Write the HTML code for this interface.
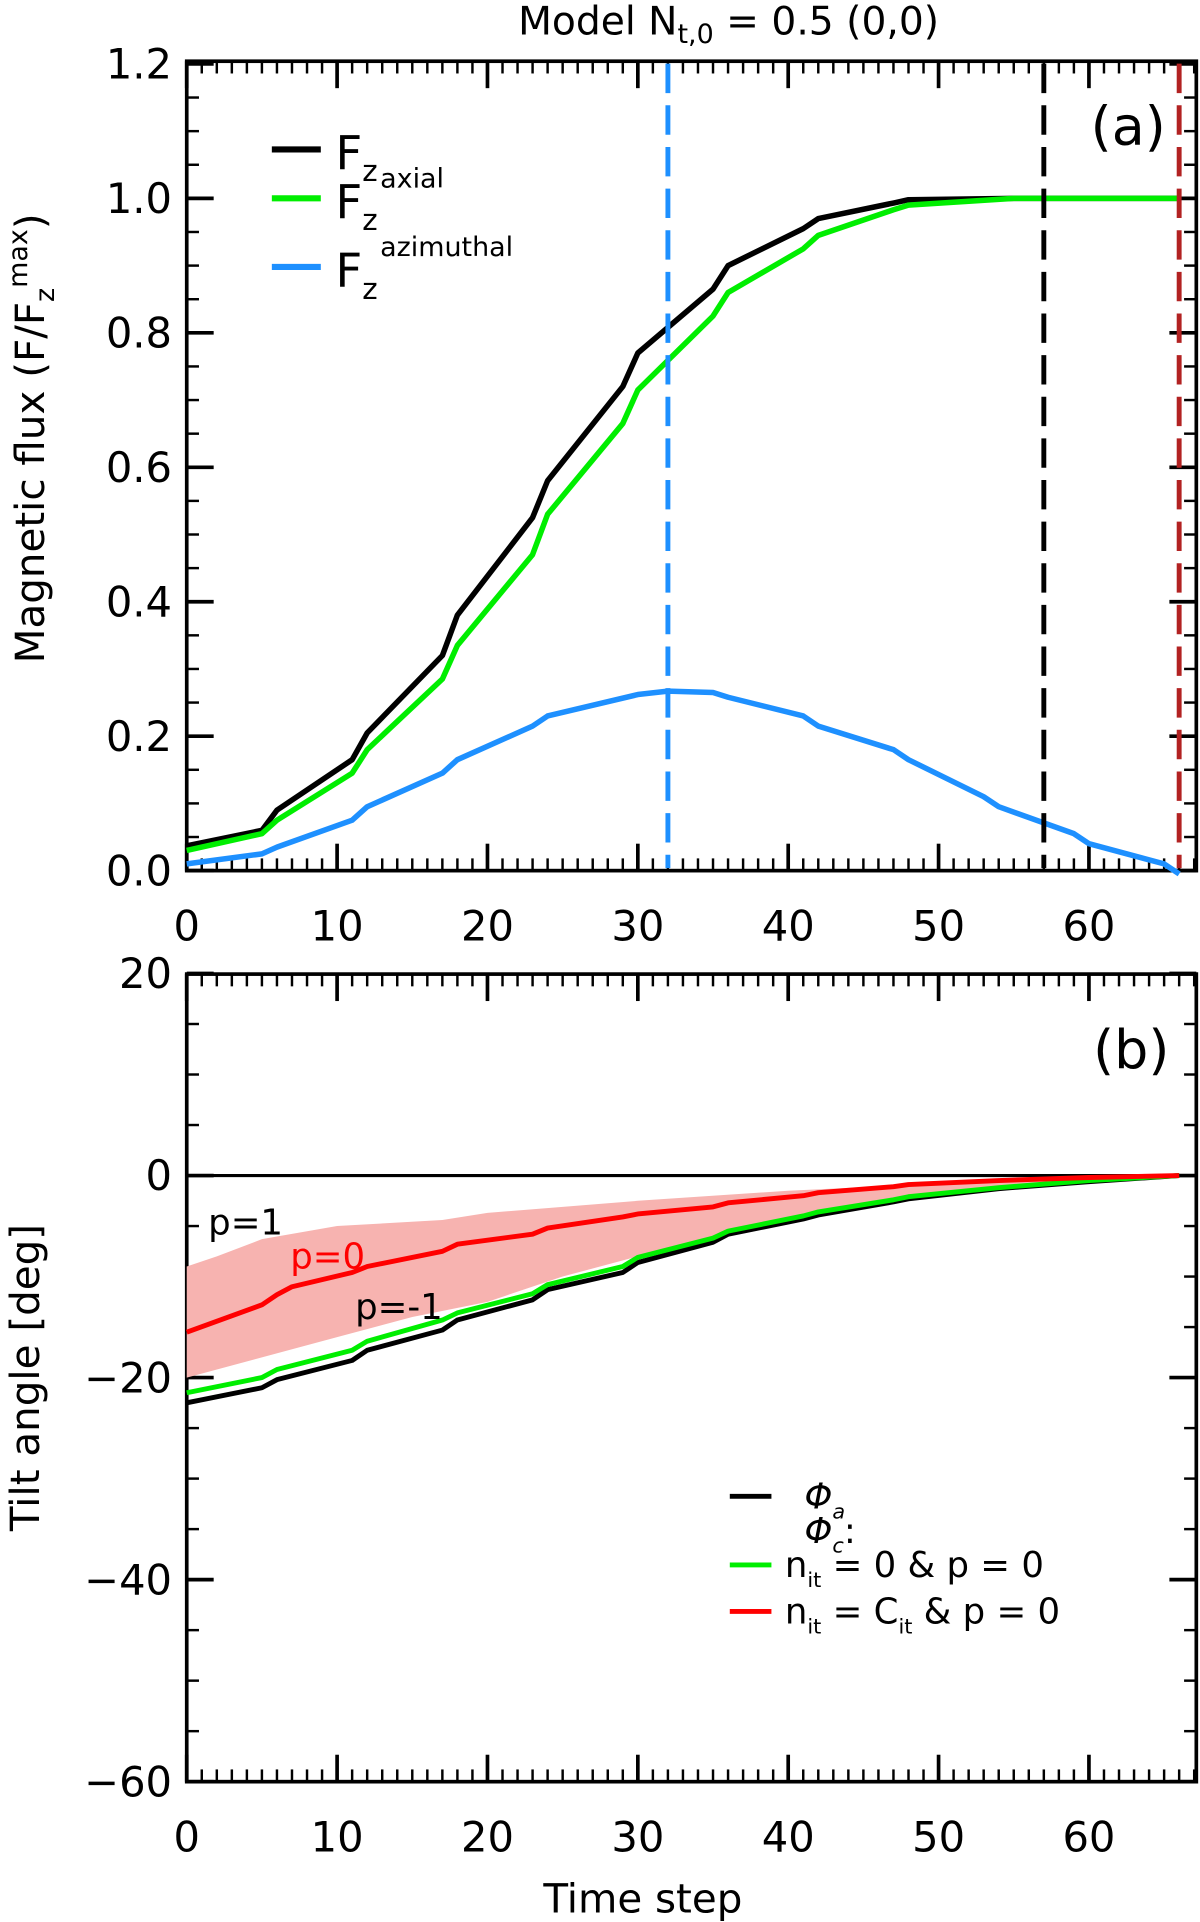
<!DOCTYPE html>
<html><head><meta charset="utf-8"><style>html,body{margin:0;padding:0;background:#fff}svg{display:block}text{font-family:"DejaVu Sans","Liberation Sans",sans-serif}</style></head>
<body>
<svg id="c" width="1200" height="1922" viewBox="0 0 980 1569.6" preserveAspectRatio="none" xmlns="http://www.w3.org/2000/svg">
<text x="595" y="28" font-size="32" text-anchor="middle">Model N<tspan font-size="22" dy="7">t,0</tspan><tspan dy="-7"> = 0.5 (0,0)</tspan></text>
<text transform="translate(36,358) rotate(-90)" font-size="33" text-anchor="middle">Magnetic flux (F/F<tspan font-size="22" dy="8">z</tspan><tspan font-size="22" dy="-22">max</tspan><tspan dy="14">)</tspan></text>
<text transform="translate(32,1125) rotate(-90)" font-size="33" text-anchor="middle">Tilt angle [deg]</text>
<text x="525" y="1562" font-size="33" text-anchor="middle">Time step</text>
<g id="ga"></g><g id="gb"></g>
</svg>
<script>
// Panel (a) data
const tA = [0,5,6,11,12,17,18,23,24,29,30,35,36,41,42,47,48,55,66];
const fz = [0.037,0.06,0.09,0.165,0.205,0.32,0.38,0.525,0.58,0.72,0.77,0.865,0.9,0.955,0.97,0.993,0.998,1.0,1.0];
const fzAxial = [0.03,0.055,0.075,0.145,0.18,0.285,0.335,0.47,0.53,0.665,0.715,0.825,0.86,0.925,0.945,0.983,0.99,1.0,1.0];
const tAz = [0,5,6,11,12,17,18,23,24,30,32,35,36,41,42,47,48,53,54,59,60,65,66];
const fzAzim = [0.01,0.025,0.035,0.075,0.095,0.145,0.165,0.215,0.23,0.262,0.267,0.265,0.258,0.23,0.215,0.18,0.165,0.11,0.095,0.055,0.04,0.01,-0.005];
const vlinesA = [32,57,66];
const ticksAY = [0,0.2,0.4,0.6,0.8,1.0,1.2];
const ticksX = [0,10,20,30,40,50,60];
// Panel (b) data
const tB = [0,5,6,11,12,17,18,23,24,29,30,35,36,41,42,47,48,54,60,66];
const phiA = [-22.5,-21,-20.2,-18.3,-17.3,-15.3,-14.3,-12.3,-11.3,-9.6,-8.6,-6.6,-5.8,-4.3,-3.9,-2.6,-2.3,-1.3,-0.6,0];
const phiCgreen = [-21.5,-20,-19.2,-17.3,-16.4,-14.3,-13.6,-11.7,-10.8,-9.0,-8.1,-6.2,-5.5,-4.0,-3.6,-2.4,-2.1,-1.2,-0.5,0];
const tRed = [0,5,6,7,11,12,17,18,23,24,29,30,35,36,41,42,47,48,54,60,66];
const phiCred = [-15.5,-12.8,-11.8,-11,-9.6,-9,-7.5,-6.8,-5.8,-5.2,-4.1,-3.8,-3.1,-2.7,-2.0,-1.7,-1.1,-0.9,-0.5,-0.2,0];
const tBandU = [0,2,5,10,17,20,30,40,50,60,66];
const bandUpper = [-9,-8,-6.3,-5,-4.4,-3.7,-2.5,-1.5,-0.8,-0.3,0];
const tBandL = [0,5,10,15,20,25,30,35,40,45,50,55,60,66];
const bandLower = [-20,-18,-16,-14,-12.5,-10,-8,-6,-4.5,-3.2,-2,-1.2,-0.5,0];
const ticksBY = [-60,-40,-20,0,20];

const NS="http://www.w3.org/2000/svg";
const L=152.5,R=977;
const x=t=>L+t*12.28;
const yA=v=>711-v*549;
const yB=v=>960-v*8.25;
function mk(p,tag,at){const e=document.createElementNS(NS,tag);for(const k in at)e.setAttribute(k,at[k]);p.appendChild(e);return e;}
function pts(ts,vs,fy){return ts.map((t,i)=>x(t).toFixed(1)+','+fy(vs[i]).toFixed(1)).join(' ');}
const ga=document.getElementById('ga'), gb=document.getElementById('gb');

function axes(g,top,bot,fy,ymin,ymax,minStep,majors,fmt,nm){
  const fr=mk(g,'rect',{x:L,y:top,width:R-L,height:bot-top,fill:'none',stroke:'#000','stroke-width':3});
  
  
  for(let t=0;t<=67;t++){const maj=t%10==0,len=maj?22:10;
    mk(g,'line',{x1:x(t),x2:x(t),y1:bot,y2:bot-len,stroke:'#000','stroke-width':maj?3:2});
    mk(g,'line',{x1:x(t),x2:x(t),y1:top,y2:top+len,stroke:'#000','stroke-width':maj?3:2});}
  for(let v=ymin;v<=ymax+1e-9;v+=minStep){const maj=majors.some(m=>Math.abs(m-v)<1e-6),len=maj?22:10;
    mk(g,'line',{x1:L,x2:L+len,y1:fy(v),y2:fy(v),stroke:'#000','stroke-width':maj?3:2});
    mk(g,'line',{x1:R,x2:R-len,y1:fy(v),y2:fy(v),stroke:'#000','stroke-width':maj?3:2});}
  majors.forEach(v=>{const tx=mk(g,'text',{x:L-12,y:fy(v)+12,'font-size':34,'text-anchor':'end'});tx.textContent=fmt(v);
    
    });
  ticksX.forEach(t=>{const tx=mk(g,'text',{x:x(t),y:bot+57,'font-size':34,'text-anchor':'middle'});tx.textContent=t;
    
    });
}
axes(ga,50,711,yA,0,1.2,0.05,ticksAY,v=>v.toFixed(1),'panel-a');
axes(gb,795.5,1455,yB,-60,20,5,ticksBY,v=>v<0?'\u2212'+(-v):''+v,'panel-b');

function line(g,ts,vs,fy,col,w,nm){const e=mk(g,'polyline',{points:pts(ts,vs,fy),fill:'none',stroke:col,'stroke-width':w,'stroke-linejoin':'round'});
  
  return e;}
// panel a
line(ga,tA,fz,yA,'#000',4.5,'fz-line');
line(ga,tA,fzAxial,yA,'#00ee00',4.5,'fz-axial-line');
line(ga,tAz,fzAzim,yA,'#1e90ff',4.5,'fz-azimuthal-line');
const vcols=['#1e90ff','#000','#b22222'];
vlinesA.forEach((t,i)=>{const e=mk(ga,'line',{x1:x(t),x2:x(t),y1:52,y2:709,stroke:vcols[i],'stroke-width':4,'stroke-dasharray':'24,10'});
  
  });
const la=mk(ga,'text',{x:952,y:118,'font-size':44,'text-anchor':'end'});la.textContent='(a)';


const leg=[['#000',122,''],['#00ee00',162,'axial'],['#1e90ff',218,'azimuthal']];
leg.forEach(([c,yy,sup],i)=>{const l=mk(ga,'line',{x1:222,x2:262,y1:yy,y2:yy,stroke:c,'stroke-width':5});
  
  
  const tx=mk(ga,'text',{x:274,y:yy+16,'font-size':38});
  
  
  tx.innerHTML='F<tspan font-size="24" dy="10">z</tspan>'+(sup?'<tspan font-size="22" dx="2" dy="-35">'+sup+'</tspan>':'');});
// panel b
const band=tBandU.map((t,i)=>x(t)+','+yB(bandUpper[i])).concat(tBandL.map((t,i)=>x(t)+','+yB(bandLower[i])).reverse()).join(' ');
const bd=mk(gb,'polygon',{points:band,fill:'#f7b3b0',stroke:'none'});


const zl=mk(gb,'line',{x1:L,x2:R,y1:yB(0),y2:yB(0),stroke:'#000','stroke-width':2.5});


line(gb,tB,phiA,yB,'#000',4,'phi-a-line');
line(gb,tB,phiCgreen,yB,'#00ee00',4,'phi-c-green-line');
line(gb,tRed,phiCred,yB,'#ff0000',4,'phi-c-red-line');
const lb=mk(gb,'text',{x:955,y:872,'font-size':44,'text-anchor':'end'});lb.textContent='(b)';


[['p=1',170,1008,'#000'],['p=0',237,1036,'#ff0000'],['p=-1',290,1077,'#000']].forEach(([s,xx,yy,c])=>{const t=mk(gb,'text',{x:xx,y:yy,'font-size':29,fill:c});t.textContent=s;
  
  });
const lg=[['#000',1222,'<tspan font-style="italic">Φ</tspan><tspan font-size="17" dy="8" font-style="italic">a</tspan>',657],
 [null,1250,'<tspan font-style="italic">Φ</tspan><tspan font-size="17" dy="8" font-style="italic">c</tspan><tspan dy="-8">:</tspan>',657],
 ['#00ee00',1278,'n<tspan font-size="17" dy="8">it</tspan><tspan dy="-8"> = 0 &amp; p = 0</tspan>',641],
 ['#ff0000',1316,'n<tspan font-size="17" dy="8">it</tspan><tspan dy="-8"> = C</tspan><tspan font-size="17" dy="8">it</tspan><tspan dy="-8"> &amp; p = 0</tspan>',641]];
lg.forEach(([c,yy,h,tx0])=>{if(c){const l=mk(gb,'line',{x1:596,x2:630,y1:yy,y2:yy,stroke:c,'stroke-width':4});
  
  }
  const t=mk(gb,'text',{x:tx0,y:yy+10,'font-size':29});t.innerHTML=h;
  
  });
</script>
</body></html>
